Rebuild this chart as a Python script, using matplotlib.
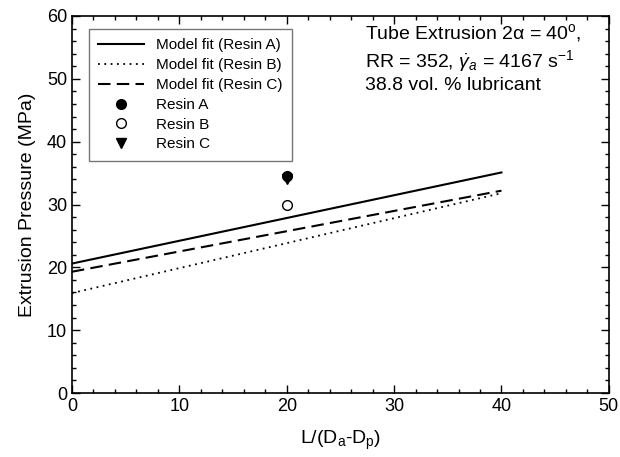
import numpy as np
import matplotlib
matplotlib.use("Agg")
import matplotlib.pyplot as plt
from matplotlib.ticker import MultipleLocator

plt.rcParams['font.family'] = ['Liberation Sans', 'DejaVu Sans']
plt.rcParams['mathtext.fontset'] = 'custom'
plt.rcParams['mathtext.rm'] = 'Liberation Sans'
plt.rcParams['mathtext.it'] = 'Liberation Sans:italic'

# model fit end points (x = 0 and x = 40)
fit_x = [0, 40]
fit_a = [20.6, 35.1]
fit_b = [15.9, 31.8]
fit_c = [19.3, 32.2]

# measured points
exp_x = [20]
exp_a = [34.5]
exp_b = [30.0]
exp_c = [34.0]

fig = plt.figure(figsize=(6.2, 4.57), dpi=100)
ax = fig.add_axes([0.116, 0.140, 0.866, 0.825])

ax.plot(fit_x, fit_a, '-', color='black', lw=1.5, label='Model fit (Resin A)')
ax.plot(fit_x, fit_b, color='black', lw=1.3, linestyle=(0, (1, 2.5)), label='Model fit (Resin B)')
ax.plot(fit_x, fit_c, color='black', lw=1.5, linestyle=(0, (6, 3)), label='Model fit (Resin C)')
ax.plot(exp_x, exp_a, 'o', color='black', ms=7, label='Resin A', zorder=4)
ax.plot(exp_x, exp_b, 'o', mfc='white', mec='black', ms=7, mew=1.0, label='Resin B')
ax.plot(exp_x, exp_c, 'v', color='black', ms=7, label='Resin C', zorder=3)

ax.set_xlim(0, 50)
ax.set_ylim(0, 60)
ax.xaxis.set_major_locator(MultipleLocator(10))
ax.xaxis.set_minor_locator(MultipleLocator(2))
ax.yaxis.set_major_locator(MultipleLocator(10))
ax.yaxis.set_minor_locator(MultipleLocator(2))
ax.tick_params(which='both', direction='in', top=True, right=True, labelsize=13)
ax.tick_params(which='major', length=6, width=1)
ax.tick_params(which='minor', length=3, width=1)
for s in ax.spines.values():
    s.set_linewidth(1.2)

ax.set_xlabel(r'L/(D$_\mathregular{a}$-D$_\mathregular{p}$)', fontsize=14, labelpad=10)
ax.set_ylabel('Extrusion Pressure (MPa)', fontsize=14, labelpad=8)

leg = ax.legend(loc='upper left', bbox_to_anchor=(0.018, 0.985), fontsize=11,
                frameon=True, fancybox=False, edgecolor='#555555', handlelength=3.0,
                labelspacing=0.38, borderpad=0.6, handletextpad=0.8)
leg.get_frame().set_linewidth(1.0)

ax.text(0.545, 0.985,
        'Tube Extrusion 2\u03b1 = 40$^\\mathregular{o}$,\n'
        'RR = 352, $\\dot{\\gamma}_{a}$ = 4167 s$^{\\mathregular{-1}}$\n'
        '38.8 vol. % lubricant',
        transform=ax.transAxes, ha='left', va='top', fontsize=14, linespacing=1.22)

fig.savefig('out.png', dpi=100)
